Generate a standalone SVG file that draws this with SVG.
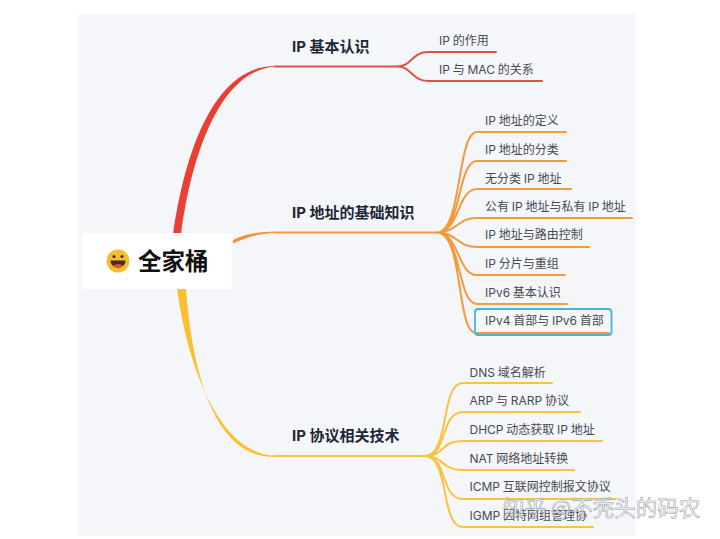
<svg xmlns="http://www.w3.org/2000/svg" width="720" height="539" viewBox="0 0 720 539">
<style>
text{font-family:"Inter","Noto Sans CJK SC","Noto Sans",sans-serif}
.m{font-size:15px;font-weight:700;fill:#1c2838}
.c{font-size:12px;fill:#454b54;word-spacing:-.6px}
.l{fill:none;stroke-width:2;stroke-linecap:round}
.r{stroke:#e0504a}.o{stroke:#f29a3c}.y{stroke:#f8c440}
</style>
<rect width="720" height="539" fill="#fff"/>
<rect x="78" y="14" width="558" height="522" fill="#f5f6f9"/>
<g id="connectors">
<path d="M173 235C185 150 215 66 275 66C282 66 282 66.600 275 66.800C222 70 192 150 181 235Z" fill="#ea3f33"/>
<path d="M233 240C245 234 258 231.800 275 231.800L275 233C258 233.500 245 238 233 243.500Z" fill="#f2953a"/>
<path d="M177 289C190 380 225 455 275 455.500L275 457C217 458 193 380 186 289Z" fill="#fbc02f"/>
<path class="l r" stroke-width="1.500" d="M275 66.500H398"/>
<path class="l r" d="M398 66.500C412 66 412 52 428 52H496M398 66.500C412 67 412 81 428 81H542"/>
<path class="l o" d="M275 232.500H437"/>
<path class="l o" d="M437 232.500C462 232 457 132 477 132H566M437 232.500C462 232 457 161 477 161H566M437 232.500C460 232 457 189 477 189H571M437 232.500C458 232 457 218 477 218H632M437 232.500C458 233 457 247 477 247H589M437 232.500C460 233 457 275 477 275H565M437 232.500C462 233 457 304 477 304H567M437 232.500C464 233 456 333 476 333H609"/>
<path class="l y" d="M275 456H425"/>
<path class="l y" d="M425 456C450 456 440 383 463 383H552M425 456C448 456 440 412 463 412H580M425 456C445 456 440 441 463 441H602M425 456C445 456 440 470 463 470H574M425 456C448 456 440 499 463 499H616M425 456C450 456 440 527 463 527H593"/>
</g>
<g id="root">
<rect x="82" y="233" width="150" height="56" fill="#fff"/>
<circle cx="118" cy="261" r="11.500" fill="#f6bd31"/>
<circle cx="114" cy="256.500" r="1.600" fill="#40332a"/><circle cx="122" cy="256.500" r="1.600" fill="#40332a"/>
<path d="M110.500 260.500H125.500C125.500 270 110.500 270 110.500 260.500Z" fill="#4a2a22"/>
<path d="M113 266C115 263.800 121 263.800 123 266C120.500 267.800 115.500 267.800 113 266Z" fill="#e8513f"/>
<text x="138" y="270" font-size="23.500" font-weight="700" fill="#111" style="font-family:'Noto Sans CJK SC',sans-serif">全家桶</text>
</g>
<g id="n1"><text class="m" x="292" y="52">IP 基本认识</text></g>
<g id="n1a"><text class="c" x="439" y="45">IP 的作用</text></g>
<g id="n1b"><text class="c" x="439" y="74">IP 与 MAC 的关系</text></g>
<g id="n2"><text class="m" x="292" y="218">IP 地址的基础知识</text></g>
<g id="n2a"><text class="c" x="485" y="125">IP 地址的定义</text></g>
<g id="n2b"><text class="c" x="485" y="154">IP 地址的分类</text></g>
<g id="n2c"><text class="c" x="485" y="183">无分类 IP 地址</text></g>
<g id="n2d"><text class="c" x="485" y="211">公有 IP 地址与私有 IP 地址</text></g>
<g id="n2e"><text class="c" x="485" y="239">IP 地址与路由控制</text></g>
<g id="n2f"><text class="c" x="485" y="268">IP 分片与重组</text></g>
<g id="n2g"><text class="c" x="485" y="297">IPv6 基本认识</text></g>
<g id="n2h"><rect x="475" y="309" width="136.500" height="26" rx="3" fill="none" stroke="#45b4e2" stroke-width="1.800"/><text class="c" x="485" y="325">IPv4 首部与 IPv6 首部</text></g>
<g id="n3"><text class="m" x="292" y="441">IP 协议相关技术</text></g>
<g id="n3a"><text class="c" x="469.500" y="377">DNS 域名解析</text></g>
<g id="n3b"><text class="c" x="469.500" y="405">ARP 与 RARP 协议</text></g>
<g id="n3c"><text class="c" x="469.500" y="434">DHCP 动态获取 IP 地址</text></g>
<g id="n3d"><text class="c" x="469.500" y="463">NAT 网络地址转换</text></g>
<g id="n3e"><text class="c" x="469.500" y="491">ICMP 互联网控制报文协议</text></g>
<g id="n3f"><text class="c" x="469.500" y="520">IGMP 因特网组管理协</text></g>
<text x="503" y="516" font-size="21.500" fill="#fff" fill-opacity=".8" stroke="#83888f" stroke-width=".6" stroke-opacity=".8" style="font-family:'Noto Sans CJK SC',sans-serif">知乎 @不秃头的码农</text>
</svg>
